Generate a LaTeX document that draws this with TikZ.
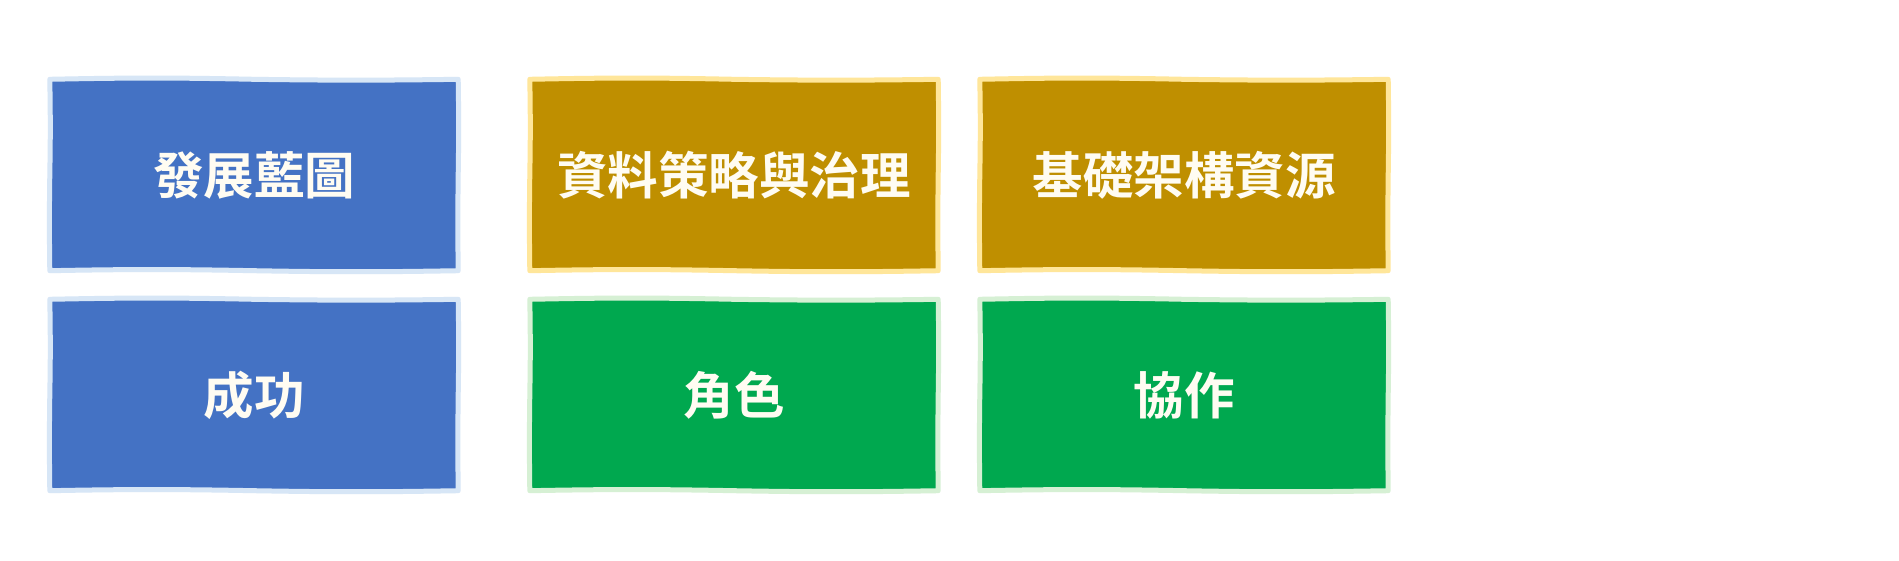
\documentclass[tikz,border=0pt]{standalone}
\usepackage{fontspec}
\newfontfamily\cjk{Noto Sans CJK TC}[BoldFont={Noto Sans CJK TC Bold}]
\definecolor{bluef}{HTML}{4472C4}
\definecolor{blueb}{HTML}{D7E6F6}
\definecolor{goldf}{HTML}{BF8F00}
\definecolor{goldb}{HTML}{FFE69A}
\definecolor{greenf}{HTML}{00A84F}
\definecolor{greenb}{HTML}{D6F0D4}
\definecolor{txt}{HTML}{FFFCF2}
\tikzset{
  anchorbox/.style={minimum width=408pt, minimum height=191pt, inner sep=0pt, draw=none},
  label/.style={text=txt, font=\cjk\bfseries\fontsize{50.5}{58}\selectfont, inner sep=0pt},
  wob/.style={line width=5pt, line join=round}
}
\newcommand{\wobbox}[3]{%
  \path[wob, fill=#2, draw=#3]
    (#1.north west) to[bend left=1.2] (#1.north) to[bend right=0.8] (#1.north east)
    to[bend left=0.9] (#1.east) to[bend right=0.7] (#1.south east)
    to[bend left=1] (#1.south) to[bend right=1.1] (#1.south west)
    to[bend left=0.8] (#1.west) to[bend right=1] (#1.north west) -- cycle;}
\begin{document}
\begin{tikzpicture}[x=1pt,y=1pt]
\useasboundingbox[fill=white] (0,0) rectangle (1899,-560);
\node[anchorbox] (b1) at (254,-175) {};
\node[anchorbox] (b2) at (734,-175) {};
\node[anchorbox] (b3) at (1184,-175) {};
\node[anchorbox] (b4) at (254,-395) {};
\node[anchorbox] (b5) at (734,-395) {};
\node[anchorbox] (b6) at (1184,-395) {};
\wobbox{b1}{bluef}{blueb}
\wobbox{b2}{goldf}{goldb}
\wobbox{b3}{goldf}{goldb}
\wobbox{b4}{bluef}{blueb}
\wobbox{b5}{greenf}{greenb}
\wobbox{b6}{greenf}{greenb}
\node[label] (t1) at (b1) {發展藍圖};
\node[label] (t2) at (b2) {資料策略與治理};
\node[label] (t3) at (b3) {基礎架構資源};
\node[label] (t4) at (b4) {成功};
\node[label] (t5) at (b5) {角色};
\node[label] (t6) at (b6) {協作};
\end{tikzpicture}
\end{document}
